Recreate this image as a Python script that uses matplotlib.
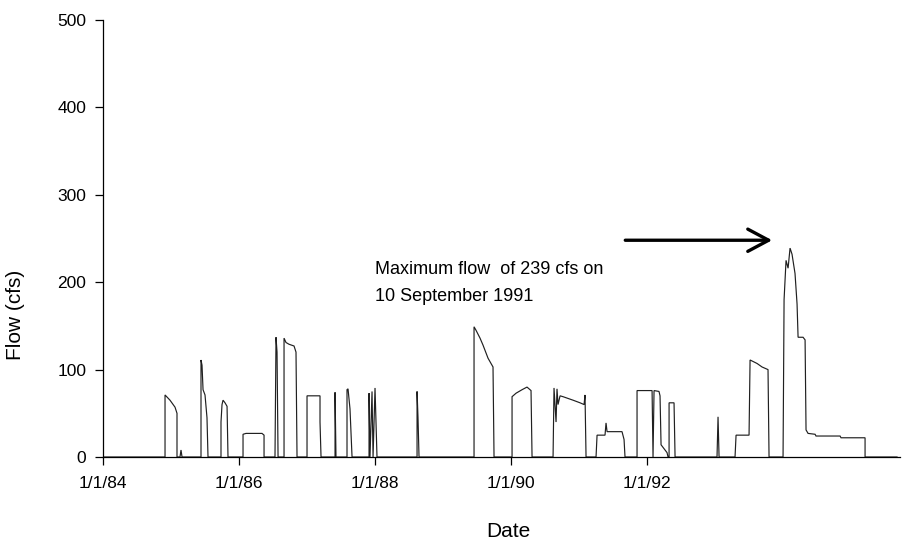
import matplotlib
matplotlib.use("Agg")
import matplotlib.pyplot as plt

plt.rcParams["font.family"] = ["Liberation Sans", "DejaVu Sans"]

# Category-axis positions (two units per labelled date step) and daily flows in cfs
obs_pos = [
    0.000, 0.912, 0.912, 0.985, 1.059, 1.088, 1.088,
    1.132, 1.147, 1.162,
    1.441, 1.441, 1.456, 1.471, 1.500, 1.529, 1.544,
    1.735, 1.735, 1.750, 1.765, 1.794, 1.824, 1.838,
    2.059, 2.059, 2.103, 2.338, 2.368, 2.368,
    2.529, 2.544, 2.559, 2.574,
    2.662, 2.662, 2.691, 2.735, 2.809, 2.838, 2.853,
    3.000, 3.000, 3.103, 3.191, 3.191, 3.206,
    3.412, 3.412, 3.426,
    3.588, 3.588, 3.603, 3.632, 3.662,
    3.912, 3.912, 3.926, 3.956, 3.971, 4.000, 4.015, 4.029,
    4.618, 4.618, 4.632, 4.647,
    5.456, 5.456, 5.485, 5.544, 5.588, 5.662, 5.735, 5.750,
    6.015, 6.015, 6.074, 6.162, 6.235, 6.294, 6.309,
    6.618, 6.632, 6.662, 6.676, 6.691, 6.721, 6.765, 6.838, 6.912, 7.015, 7.074, 7.088, 7.103,
    7.250, 7.265, 7.382, 7.397, 7.412, 7.632, 7.662, 7.676,
    7.853, 7.853, 8.074, 8.088, 8.103, 8.176, 8.191, 8.206, 8.294, 8.309,
    8.324, 8.324, 8.397, 8.412,
    9.029, 9.044, 9.059,
    9.294, 9.309, 9.500, 9.515, 9.618, 9.691, 9.779, 9.794,
    10.000, 10.015, 10.044, 10.074, 10.103, 10.132, 10.176, 10.206, 10.221,
    10.294, 10.324, 10.338, 10.368, 10.471, 10.485, 10.838, 10.853, 11.206, 11.206,
    11.676,
]
flow_cfs = [
    0, 0, 71, 65, 57, 50, 0,
    0, 8, 0,
    0, 111, 105, 77, 71, 45, 0,
    0, 40, 60, 65, 62, 58, 0,
    0, 26, 27, 27, 25, 0,
    0, 137, 120, 0,
    0, 136, 131, 129, 127, 120, 0,
    0, 70, 70, 70, 40, 0,
    0, 74, 0,
    0, 77, 78, 55, 0,
    0, 73, 0, 75, 0, 79, 40, 0,
    0, 75, 45, 0,
    0, 149, 145, 136, 128, 113, 103, 0,
    0, 69, 73, 77, 80, 76, 0,
    0, 79, 40, 78, 60, 70, 69, 67, 65, 62, 60, 71, 0,
    0, 25, 25, 39, 29, 29, 20, 0,
    0, 76, 76, 0, 76, 75, 70, 14, 5, 0,
    0, 62, 62, 0,
    0, 46, 0,
    0, 25, 25, 111, 107, 103, 100, 0,
    0, 180, 225, 216, 239, 232, 210, 175, 137,
    137, 134, 31, 27, 26, 24, 24, 22, 22, 0,
    0,
]

tick_pos = [0, 2, 4, 6, 8]
tick_labels = ["1/1/84", "1/1/86", "1/1/88", "1/1/90", "1/1/92"]
y_ticks = [0, 100, 200, 300, 400, 500]

peak_flow = 239
note_lines = [f"Maximum flow  of {peak_flow} cfs on", "10 September 1991"]

fig = plt.figure(figsize=(9.02, 5.46), dpi=100)
ax = fig.add_axes([0.1142, 0.163, 0.8836, 0.8004])

ax.plot(obs_pos, flow_cfs, color="#202020", lw=0.85, solid_joinstyle="miter")

ax.set_xlim(0, 11.72)
ax.set_ylim(0, 500)
ax.set_xticks(tick_pos)
ax.set_xticklabels(tick_labels)
ax.set_yticks(y_ticks)

for side in ("top", "right"):
    ax.spines[side].set_visible(False)
for side in ("left", "bottom"):
    ax.spines[side].set_linewidth(0.9)
    ax.spines[side].set_color("black")

ax.tick_params(axis="both", direction="out", length=6, width=0.9,
               labelsize=12.5, colors="black")
ax.tick_params(axis="y", pad=6)
ax.tick_params(axis="x", pad=8)

ax.set_ylabel("Flow (cfs)", fontsize=15)
ax.yaxis.set_label_coords(-0.098, 0.325)
ax.set_xlabel("Date", fontsize=15)
ax.xaxis.set_label_coords(0.509, -0.149)

ax.text(4.0, 215, note_lines[0], fontsize=13, va="center", ha="left")
ax.text(4.0, 184, note_lines[1], fontsize=13, va="center", ha="left")

ax.annotate("", xy=(9.84, 248), xytext=(7.68, 248),
            arrowprops=dict(arrowstyle="->,head_length=1.5,head_width=0.8",
                            lw=2.4, color="black", shrinkA=0, shrinkB=0))

fig.savefig("out.png", dpi=100, facecolor="white")
